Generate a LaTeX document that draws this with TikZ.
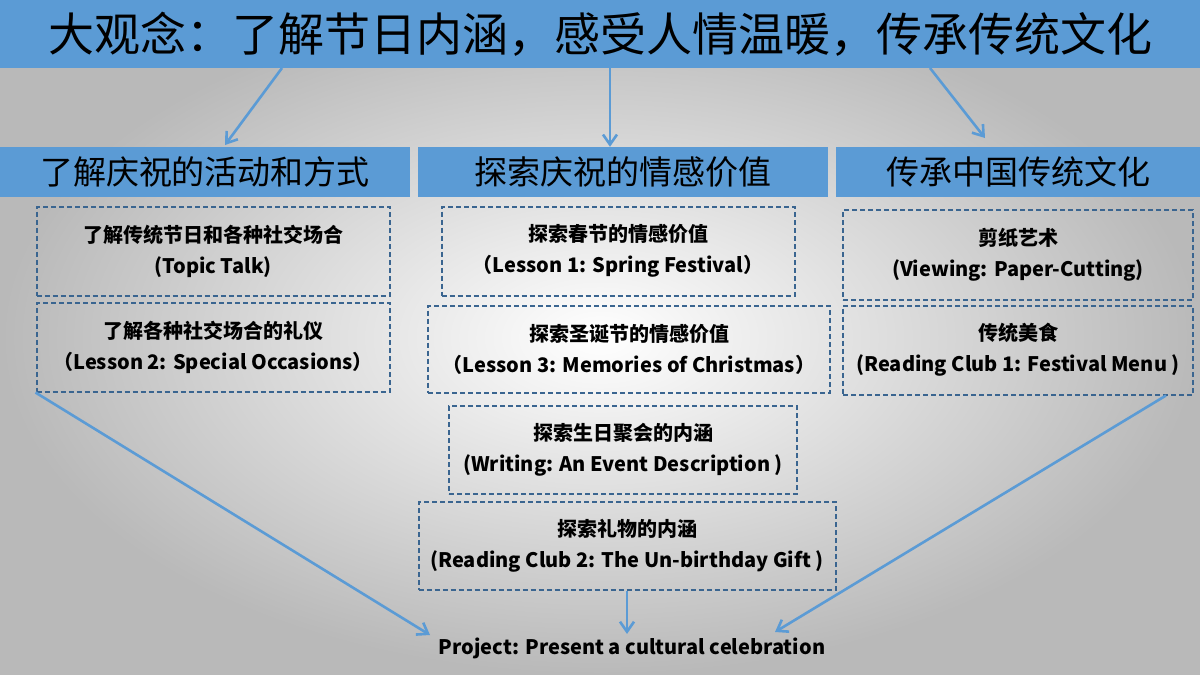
\documentclass[tikz,border=0pt]{standalone}
\usepackage{fontspec}
\setmainfont{Noto Sans CJK SC}
\usepackage{tikz}
\usetikzlibrary{positioning,arrows.meta,shapes}
\definecolor{BarBlue}{HTML}{5B9BD5}
\definecolor{DashBlue}{HTML}{3A6590}

\begin{document}
\begin{tikzpicture}[x=1pt,y=-1pt,
                    head/.style={fill=BarBlue,minimum height=50pt,inner sep=0pt,font={\fontsize{33}{35}\selectfont}},
                    lesson/.style={draw=DashBlue,dash pattern=on 5pt off 3pt,line width=2pt,align=center,inner sep=0pt,font={\bfseries\fontsize{20}{31}\selectfont}},
                    link/.style={draw=BarBlue,line width=2.6pt,-{Straight Barb[length=10pt,width=14pt]}}]
  \shade[inner color=white,outer color=gray!55] (0,0) rectangle (1200,675);
  \useasboundingbox (0,0) rectangle (1200,675);
  \node[fill=BarBlue,minimum width=1200pt,minimum height=68pt,inner sep=0pt,anchor=north west,
        font={\fontsize{46}{48}\selectfont}] (banner) at (0,0) {大观念：了解节日内涵，感受人情温暖，传承传统文化};
  \node[head,minimum width=410pt] (act) at (205,172) {了解庆祝的活动和方式};
  \node[head,minimum width=410pt] (emo) at (623,172) {探索庆祝的情感价值};
  \node[head,minimum width=364pt] (cul) at (1018,172) {传承中国传统文化};
  % left column
  \node[lesson,minimum width=353pt,minimum height=89pt] (talk) at (213,251) {了解传统节日和各种社交场合\\(Topic Talk)};
  \node[lesson,minimum width=353pt,minimum height=89pt] (occ) at (213,347) {了解各种社交场合的礼仪\\（Lesson 2: Special Occasions）};
  % middle column
  \node[lesson,minimum width=353pt,minimum height=89pt] (spring) at (618,251) {探索春节的情感价值\\（Lesson 1: Spring Festival）};
  \node[lesson,minimum width=402pt,minimum height=87pt] (xmas) at (629,349) {探索圣诞节的情感价值\\（Lesson 3: Memories of Christmas）};
  \node[lesson,minimum width=348pt,minimum height=88pt] (bday) at (623,450) {探索生日聚会的内涵\\(Writing: An Event Description )};
  \node[lesson,minimum width=417pt,minimum height=88pt] (gift) at (627,546) {探索礼物的内涵\\(Reading Club 2: The Un-birthday Gift )};
  % right column
  \node[lesson,minimum width=350pt,minimum height=90pt] (paper) at (1018,255) {剪纸艺术\\(Viewing: Paper-Cutting)};
  \node[lesson,minimum width=350pt,minimum height=89pt] (menu) at (1018,350) {传统美食\\(Reading Club 1: Festival Menu )};
  \node[font={\bfseries\fontsize{20}{22}\selectfont}] (project) at (632,648) {Project: Present a cultural celebration};
  \coordinate (b1) at (282,68);
  \coordinate (b2) at (610,68);
  \coordinate (b3) at (930,68);
  \coordinate (p1) at (430,635);
  \coordinate (p2) at (775,632);
  \draw[link] (b1) -- (225,145);
  \draw[link] (b2) -- (emo.north -| b2);
  \draw[link] (b3) -- (985,138);
  \draw[link] (occ.south west) -- (p1);
  \draw[link] (menu.south east) ++(-28,0) -- (p2);
  \draw[link] (gift.south) -- (project.north -| gift.south);
\end{tikzpicture}
\end{document}
